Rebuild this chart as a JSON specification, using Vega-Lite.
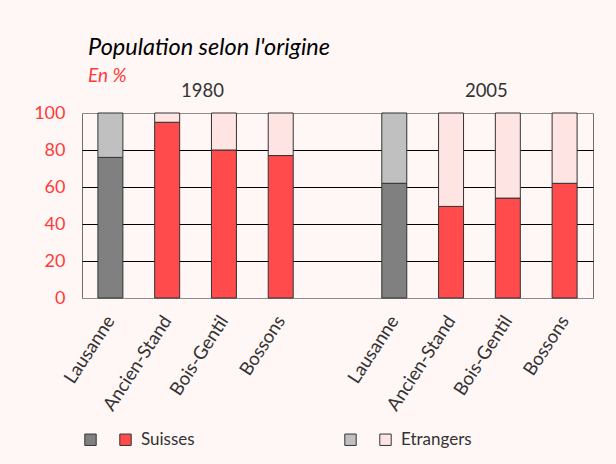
{
  "$schema": "https://vega.github.io/schema/vega-lite/v6.json",
  "width": 511,
  "height": 185,
  "autosize": "none",
  "padding": {"left": 82, "top": 113, "right": 23, "bottom": 166},
  "background": "#fff6f6",
  "title": {
    "text": "Population selon l'origine",
    "subtitle": "En %",
    "anchor": "start",
    "frame": "group",
    "dx": 6,
    "offset": -5,
    "font": "Lato",
    "fontSize": 23.5,
    "fontStyle": "italic",
    "fontWeight": "normal",
    "color": "#000000",
    "subtitleFont": "Lato",
    "subtitleFontSize": 19,
    "subtitleFontStyle": "italic",
    "subtitleColor": "#ff3b3b",
    "subtitlePadding": 8
  },
  "data": {
    "values": [
      {"year": "1980", "place": "Lausanne", "suisses": 76, "etrangers": 24},
      {"year": "1980", "place": "Ancien-Stand", "suisses": 95, "etrangers": 5},
      {"year": "1980", "place": "Bois-Gentil", "suisses": 80, "etrangers": 20},
      {"year": "1980", "place": "Bossons", "suisses": 77, "etrangers": 23},
      {"year": "2005", "place": "Lausanne", "suisses": 62, "etrangers": 38},
      {"year": "2005", "place": "Ancien-Stand", "suisses": 49.5, "etrangers": 50.5},
      {"year": "2005", "place": "Bois-Gentil", "suisses": 54, "etrangers": 46},
      {"year": "2005", "place": "Bossons", "suisses": 62, "etrangers": 38}
    ]
  },
  "transform": [
    {"calculate": "datum.year + ' ' + datum.place", "as": "slot"},
    {"calculate": "datum.place == 'Lausanne' ? 'LausanneS' : 'Suisses'", "as": "k1"},
    {"calculate": "datum.place == 'Lausanne' ? 'LausanneE' : 'Etrangers'", "as": "k2"}
  ],
  "encoding": {
    "y": {
      "field": "suisses",
      "type": "quantitative",
      "scale": {"domain": [0, 100]},
      "axis": {
        "title": null,
        "values": [0, 20, 40, 60, 80, 100],
        "labelOverlap": false,
        "grid": true,
        "gridColor": {"condition": {"test": "datum.value == 0 || datum.value == 100", "value": "#8c8c8c"}, "value": "#000000"},
        "gridWidth": 1,
        "gridOpacity": 1,
        "domain": false,
        "ticks": false,
        "labelPadding": 17,
        "labelFont": "Lato",
        "labelFontSize": 18,
        "labelColor": "#ff3b3b"
      }
    }
  },
  "layer": [
    {
      "mark": {"type": "bar", "stroke": "#333333", "strokeWidth": 1},
      "encoding": {
        "x": {
          "field": "slot",
          "type": "nominal",
          "sort": null,
          "scale": {
            "domain": ["1980 Lausanne", "1980 Ancien-Stand", "1980 Bois-Gentil", "1980 Bossons", "gap", "2005 Lausanne", "2005 Ancien-Stand", "2005 Bois-Gentil", "2005 Bossons"],
            "paddingInner": 0.56,
            "paddingOuter": 0.28
          },
          "axis": {
            "orient": "bottom",
            "title": null,
            "domain": false,
            "ticks": false,
            "labelAngle": -57,
            "labelAlign": "right",
            "labelBaseline": "middle",
            "labelPadding": 19,
            "labelOverlap": false,
            "labelFont": "Lato",
            "labelFontSize": 18.5,
            "labelColor": "#333333",
            "labelExpr": "indexof(datum.label, ' ') > 0 ? split(datum.label, ' ')[1] : ''"
          }
        },
        "fill": {
          "field": "k1",
          "type": "nominal",
          "scale": {"domain": ["LausanneS", "Suisses"], "range": ["#808080", "#ff4b4b"]},
          "legend": {
            "orient": "none",
            "legendX": 0,
            "legendY": 318,
            "labelExpr": "datum.label == 'Suisses' ? 'Suisses' : ''"
          }
        }
      }
    },
    {
      "mark": {"type": "bar", "stroke": "#333333", "strokeWidth": 1},
      "encoding": {
        "x": {
          "field": "slot",
          "type": "nominal",
          "sort": null,
          "axis": {
            "orient": "top",
            "title": null,
            "domain": false,
            "ticks": false,
            "grid": false,
            "values": ["1980 Bois-Gentil", "2005 Bois-Gentil"],
            "labelAngle": 0,
            "labelAlign": "right",
            "labelBaseline": "bottom",
            "labelPadding": 13,
            "labelFont": "Lato",
            "labelFontSize": 18.5,
            "labelColor": "#333333",
            "labelExpr": "split(datum.label, ' ')[0] + ' '"
          }
        },
        "y2": {"datum": 100},
        "fill": {
          "field": "k2",
          "type": "nominal",
          "scale": {"domain": ["LausanneE", "Etrangers"], "range": ["#c0c0c0", "#ffe4e4"]},
          "legend": {
            "orient": "none",
            "legendX": 260,
            "legendY": 318,
            "labelExpr": "datum.label == 'Etrangers' ? 'Etrangers' : ''"
          }
        }
      }
    }
  ],
  "resolve": {"scale": {"fill": "independent"}, "axis": {"x": "independent"}},
  "config": {
    "view": {"stroke": "#6e6e6e", "strokeWidth": 1, "fill": null},
    "legend": {
      "direction": "horizontal",
      "title": null,
      "padding": 0,
      "columnPadding": 11,
      "labelOffset": 7,
      "labelFont": "Lato",
      "labelFontSize": 17,
      "labelColor": "#333333",
      "symbolType": "square",
      "symbolSize": 130,
      "symbolStrokeColor": "#333333",
      "symbolStrokeWidth": 1,
      "symbolOpacity": 1
    }
  }
}
